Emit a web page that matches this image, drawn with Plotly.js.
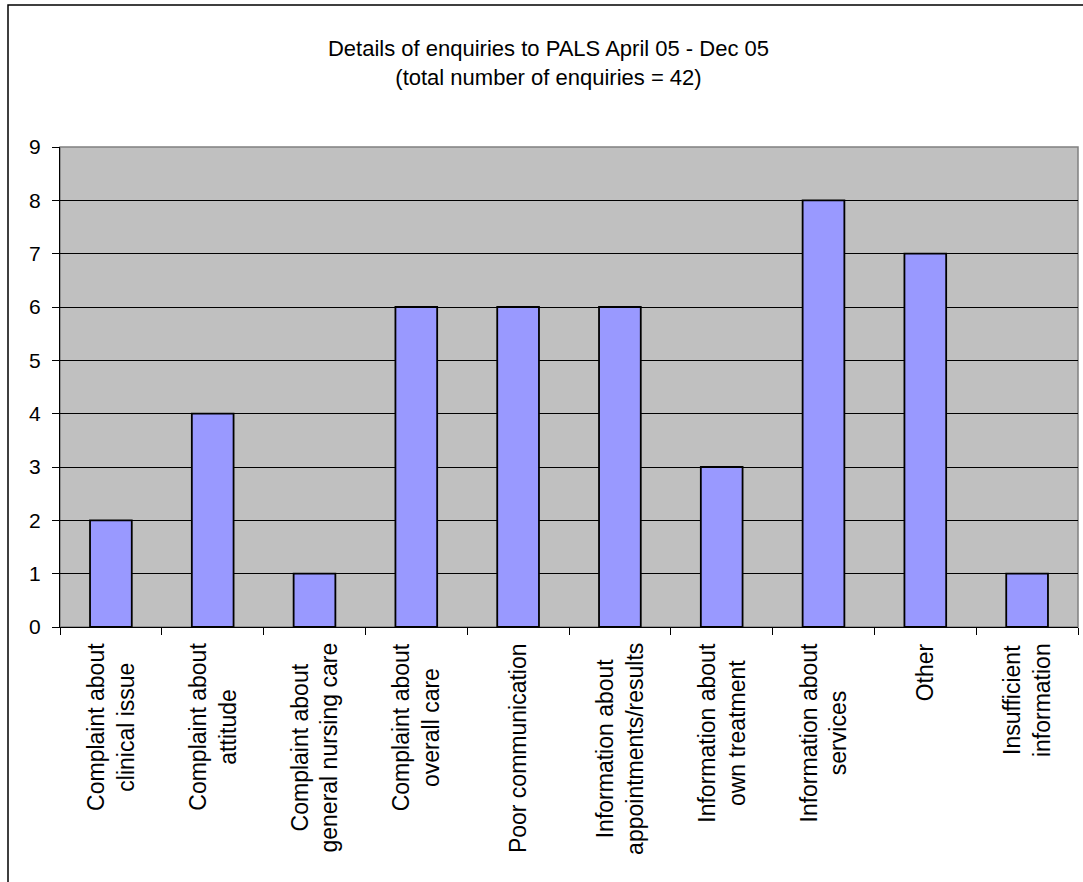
<!DOCTYPE html>
<html>
<head>
<meta charset="utf-8">
<script src="https://cdn.plot.ly/plotly-3.0.1.min.js"></script>
<style>
  html, body { margin: 0; padding: 0; background: #ffffff; }
  #chart { width: 1083px; height: 882px; }
</style>
</head>
<body>
<div id="chart"></div>
<script>
// ---- data ----
const categories = [
  "Complaint about clinical issue",
  "Complaint about attitude",
  "Complaint about general nursing care",
  "Complaint about overall care",
  "Poor communication",
  "Information about appointments/results",
  "Information about own treatment",
  "Information about services",
  "Other",
  "Insufficient information"
];
const tickLabels = [
  "Complaint about<br>clinical issue",
  "Complaint about<br>attitude",
  "Complaint about<br>general nursing care",
  "Complaint about<br>overall care",
  "Poor communication",
  "Information about<br>appointments/results",
  "Information about<br>own treatment",
  "Information about<br>services",
  "Other",
  "Insufficient<br>information"
];
const enquiries = [2, 4, 1, 6, 6, 6, 3, 8, 7, 1];
const yTicks = [0, 1, 2, 3, 4, 5, 6, 7, 8, 9];
const titleText = "Details of enquiries to PALS April 05 - Dec 05<br>(total number of enquiries = 42)";

// ---- chart ----
const FONT = '"Liberation Sans", Arial, sans-serif';

const trace = {
  type: 'bar',
  x: categories,
  y: enquiries,
  marker: { color: '#9999ff', line: { color: '#000000', width: 1.8 } },
  hoverinfo: 'x+y'
};

const annotations = categories.map((c, i) => ({
  x: c, xref: 'x',
  y: 0, yref: 'paper',
  yanchor: 'top', xanchor: 'center',
  yshift: -14,
  text: tickLabels[i],
  textangle: -90,
  align: 'center',
  showarrow: false,
  font: { family: FONT, size: 23, color: '#000000' }
}));

const layout = {
  width: 1083,
  height: 882,
  margin: { l: 60, r: 5, t: 147, b: 255 },
  paper_bgcolor: '#ffffff',
  plot_bgcolor: '#c0c0c0',
  showlegend: false,
  bargap: 0.59,
  font: { family: FONT, color: '#000000' },
  title: {
    text: titleText,
    font: { family: FONT, size: 22, color: '#000000' },
    x: 548.5 / 1083, xref: 'container', xanchor: 'center',
    y: 1 - 56 / 882, yref: 'container', yanchor: 'middle'
  },
  xaxis: {
    type: 'category',
    showticklabels: false,
    ticks: 'outside',
    tickson: 'boundaries',
    ticklen: 7,
    tickcolor: '#000000',
    tickwidth: 1,
    showline: true,
    linecolor: '#000000',
    linewidth: 1,
    showgrid: false,
    zeroline: false
  },
  yaxis: {
    range: [0, 9],
    tickvals: yTicks,
    ticktext: yTicks.map(String),
    ticks: 'outside',
    ticklen: 7,
    tickcolor: '#000000',
    tickwidth: 1,
    ticklabelstandoff: 7,
    tickfont: { family: FONT, size: 21, color: '#000000' },
    showline: true,
    linecolor: '#000000',
    linewidth: 1,
    showgrid: true,
    gridcolor: '#000000',
    gridwidth: 1,
    zeroline: false
  },
  annotations: annotations,
  shapes: [
    {
      type: 'rect', xref: 'paper', yref: 'paper',
      x0: 0, x1: 1, y0: 0, y1: 1,
      line: { color: '#808080', width: 1.5 },
      layer: 'below'
    },
    {
      type: 'rect', xref: 'paper', yref: 'paper',
      x0: (8 - 60) / 1018, x1: 1.02,
      y0: (627 - 900) / 480, y1: (627 - 5) / 480,
      line: { color: '#000000', width: 1.5 },
      fillcolor: 'rgba(0,0,0,0)',
      layer: 'above'
    }
  ]
};

Plotly.newPlot('chart', [trace], layout, { displayModeBar: false, staticPlot: true });
</script>
</body>
</html>
